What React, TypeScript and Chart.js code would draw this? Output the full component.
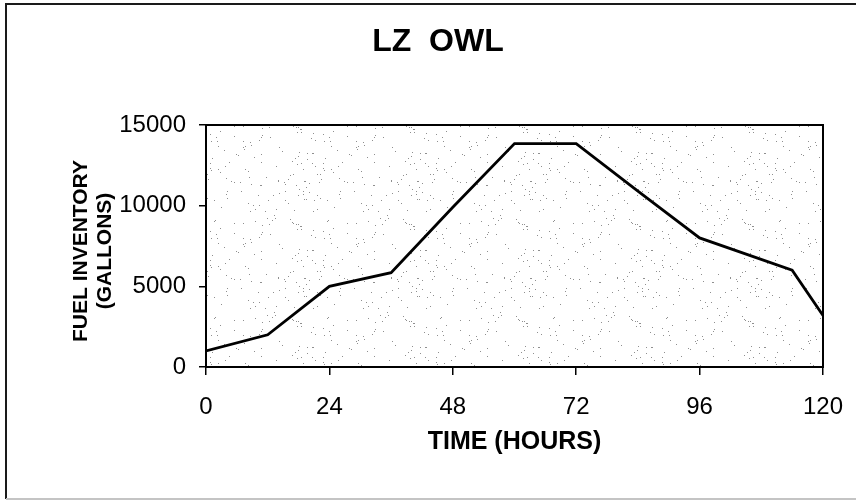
import React, { useEffect, useRef } from "react";
import { Chart, registerables } from "chart.js";

Chart.register(...registerables);

// ---- data ----
const hours = [0, 12, 24, 36, 48, 60, 72, 84, 96, 114, 120];
const gallons = [1000, 2000, 5000, 5850, 9900, 13850, 13850, 10900, 8000, 6000, 3200];
const xTickValues = [0, 24, 48, 72, 96, 120];
const yTickValues = [0, 5000, 10000, 15000];
const chartTitle = "LZ  OWL";
const xAxisTitle = "TIME (HOURS)";
const yAxisTitle = ["FUEL INVENTORY", "(GALLONS)"];

const FONT = "'Liberation Sans', Arial, Helvetica, sans-serif";

function makeStipple(): CanvasPattern | null {
  const c = document.createElement("canvas");
  const w = 113;
  const h = 97;
  c.width = w;
  c.height = h;
  const g = c.getContext("2d");
  if (!g) return null;
  g.fillStyle = "#ffffff";
  g.fillRect(0, 0, w, h);
  g.fillStyle = "#8f8f8f";
  for (let y = 0; y < h; y++) {
    for (let x = 0; x < w; x++) {
      let v = (Math.imul(x, 374761393) + Math.imul(y, 668265263)) >>> 0;
      v = Math.imul(v ^ (v >>> 13), 1274126177) >>> 0;
      v = (v ^ (v >>> 16)) >>> 0;
      if (v % 1000 < 13) g.fillRect(x, y, 1, 1);
    }
  }
  return g.createPattern(c, "repeat");
}

const framePlugin = {
  id: "frameAndStipple",
  beforeDraw(chart: any) {
    const { ctx, chartArea } = chart;
    ctx.save();
    ctx.fillStyle = "#ffffff";
    ctx.fillRect(0, 0, chart.width, chart.height);
    // outer frame
    ctx.strokeStyle = "#1a1a1a";
    ctx.lineWidth = 2;
    ctx.beginPath();
    ctx.moveTo(6, 499);
    ctx.lineTo(6, 4);
    ctx.lineTo(856, 4);
    ctx.stroke();
    ctx.strokeStyle = "#c4c4c4";
    ctx.beginPath();
    ctx.moveTo(6, 499);
    ctx.lineTo(856, 499);
    ctx.stroke();
    // stippled plot background
    const pat = makeStipple();
    if (pat) {
      ctx.fillStyle = pat;
      ctx.fillRect(chartArea.left, chartArea.top, chartArea.right - chartArea.left, chartArea.bottom - chartArea.top);
    }
    ctx.restore();
  },
  beforeDatasetsDraw(chart: any) {
    const { ctx, chartArea } = chart;
    ctx.save();
    ctx.strokeStyle = "#000000";
    ctx.lineWidth = 2;
    ctx.strokeRect(chartArea.left, chartArea.top, chartArea.right - chartArea.left, chartArea.bottom - chartArea.top);
    ctx.restore();
  },
  afterDraw(chart: any) {
    const { ctx } = chart;
    ctx.save();
    ctx.fillStyle = "#000000";
    ctx.textAlign = "center";
    ctx.textBaseline = "middle";
    // chart title
    ctx.font = `bold 32px ${FONT}`;
    ctx.fillText(chartTitle, 438, 42);
    // y axis title (two rotated lines)
    ctx.font = `bold 21px ${FONT}`;
    const cols = [81, 105];
    yAxisTitle.forEach((line, i) => {
      ctx.save();
      ctx.translate(cols[i], 251);
      ctx.rotate(-Math.PI / 2);
      ctx.fillText(line, 0, 0);
      ctx.restore();
    });
    ctx.restore();
  },
};

export default function App() {
  const ref = useRef<HTMLCanvasElement | null>(null);

  useEffect(() => {
    if (!ref.current) return;
    const chart = new Chart(ref.current, {
      type: "line",
      data: {
        datasets: [
          {
            data: hours.map((h, i) => ({ x: h, y: gallons[i] })),
            borderColor: "#000000",
            borderWidth: 2.8,
            pointRadius: 0,
            tension: 0,
            fill: false,
          },
        ],
      },
      options: {
        animation: false,
        responsive: false,
        maintainAspectRatio: false,
        layout: { padding: { left: 0, right: 33, top: 125, bottom: 0 } },
        plugins: {
          legend: { display: false },
          tooltip: { enabled: false },
          title: { display: false },
        },
        scales: {
          x: {
            type: "linear",
            min: 0,
            max: 120,
            afterBuildTicks: (scale: any) => {
              scale.ticks = xTickValues.map((v) => ({ value: v }));
            },
            afterFit: (scale: any) => {
              scale.height = 134;
              scale.paddingLeft = 0;
              scale.paddingRight = 0;
            },
            border: { display: false },
            grid: {
              drawOnChartArea: false,
              drawTicks: true,
              tickLength: 8,
              color: "#000000",
              lineWidth: 1.5,
            },
            ticks: {
              color: "#000000",
              font: { family: FONT, size: 24 },
              padding: 18,
              maxRotation: 0,
              callback: (v: any) => String(v),
            },
            title: {
              display: true,
              text: xAxisTitle,
              color: "#000000",
              font: { family: FONT, size: 25, weight: "bold", lineHeight: 1.2 },
              padding: { top: 6, bottom: 44 },
            },
          },
          y: {
            type: "linear",
            min: 0,
            max: 15000,
            afterBuildTicks: (scale: any) => {
              scale.ticks = yTickValues.map((v) => ({ value: v }));
            },
            afterFit: (scale: any) => {
              scale.width = 206;
              scale.paddingTop = 0;
              scale.paddingBottom = 0;
            },
            border: { display: false },
            grid: {
              drawOnChartArea: false,
              drawTicks: true,
              tickLength: 7,
              color: "#000000",
              lineWidth: 1.5,
            },
            ticks: {
              color: "#000000",
              font: { family: FONT, size: 24 },
              padding: 13,
              callback: (v: any) => String(v),
            },
            title: { display: false },
          },
        },
      },
      plugins: [framePlugin],
    });
    return () => chart.destroy();
  }, []);

  return (
    <div style={{ position: "fixed", left: 0, top: 0, width: 856, height: 501, background: "#fff" }}>
      <canvas ref={ref} width={856} height={501} style={{ display: "block", width: 856, height: 501 }} />
    </div>
  );
}
